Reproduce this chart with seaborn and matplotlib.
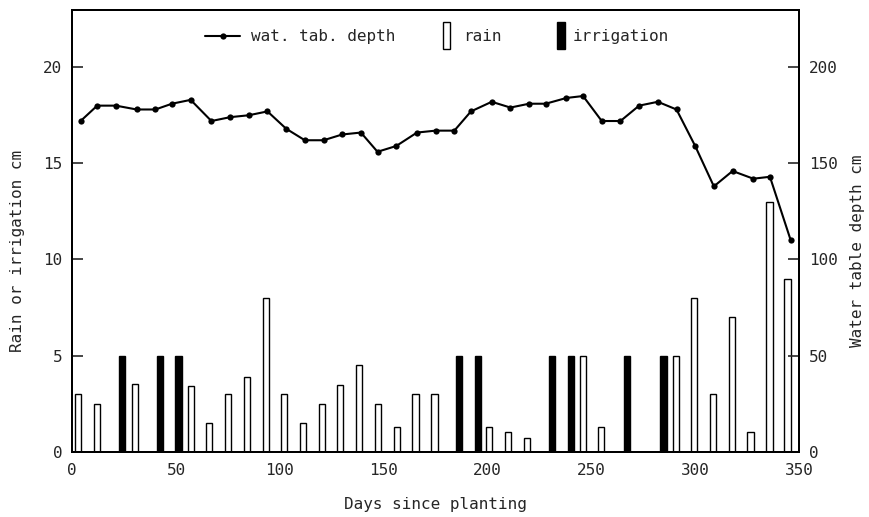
import numpy as np
import pandas as pd
import matplotlib
matplotlib.use("Agg")
import matplotlib.pyplot as plt
from matplotlib.lines import Line2D
from matplotlib.patches import Rectangle
import seaborn as sns

# ---------------- data ----------------
wt_days = [4, 12, 21, 31, 40, 48, 57, 67, 76, 85, 94, 103, 112, 121, 130, 139, 147, 156, 166, 175,
           184, 192, 202, 211, 220, 228, 238, 246, 255, 264, 273, 282, 291, 300, 309, 318, 328, 336, 346]
wt_depth = [172, 180, 180, 178, 178, 181, 183, 172, 174, 175, 177, 168, 162, 162, 165, 166, 156, 159, 166, 167,
            167, 177, 182, 179, 181, 181, 184, 185, 172, 172, 180, 182, 178, 159, 138, 146, 142, 143, 110]

rain_days = [2.8, 11.8, 30.2, 57.1, 65.9, 75.0, 84.1, 93.2, 102.1, 111.1, 120.2, 129.1, 138.2, 147.2,
             156.2, 165.3, 174.5, 200.8, 209.8, 219.0, 246.0, 254.7, 290.6, 299.5, 308.7, 317.7,
             326.6, 335.8, 344.5]
rain_cm = [3.0, 2.5, 3.5, 3.4, 1.5, 3.0, 3.9, 8.0, 3.0, 1.5, 2.5, 3.45, 4.5, 2.5,
           1.3, 3.0, 3.0, 1.3, 1.0, 0.7, 5.0, 1.3, 5.0, 8.0, 3.0, 7.0,
           1.0, 13.0, 9.0]

irr_days = [23.9, 42.1, 51.1, 186.1, 195.3, 231.1, 240.2, 267.0, 284.7]
irr_cm = [5, 5, 5, 5, 5, 5, 5, 5, 5]

left_ticks = [0, 5, 10, 15, 20]
right_ticks = [0, 50, 100, 150, 200]
x_ticks = [0, 50, 100, 150, 200, 250, 300, 350]

# ---------------- style ----------------
sns.set_style("ticks")
plt.rcParams['font.family'] = ['DejaVu Sans Mono', 'DejaVu Sans']
FS = 11.5

BAR_W_DAYS = 3.0

fig = plt.figure(figsize=(8.7, 5.17), dpi=100)
ax = fig.add_axes([0.0831, 0.1263, 0.8353, 0.8553])

rain_df = pd.DataFrame({"day": rain_days, "cm": rain_cm})
irr_df = pd.DataFrame({"day": irr_days, "cm": irr_cm})

rain_gap = np.min(np.diff(np.sort(rain_days)))
irr_gap = np.min(np.diff(np.sort(irr_days)))

sns.barplot(data=rain_df, x="day", y="cm", native_scale=True, errorbar=None,
            width=BAR_W_DAYS / rain_gap, color="white", edgecolor="black",
            linewidth=1.0, saturation=1, ax=ax)
sns.barplot(data=irr_df, x="day", y="cm", native_scale=True, errorbar=None,
            width=BAR_W_DAYS / irr_gap, color="black", edgecolor="black",
            linewidth=1.0, saturation=1, ax=ax)

ax.set_xlim(0, 350)
ax.set_ylim(0, 23)
ax.set_xticks(x_ticks)
ax.set_xticklabels([str(t) for t in x_ticks])
ax.set_yticks(left_ticks)
ax.set_yticklabels([str(t) for t in left_ticks])
ax.tick_params(axis='y', direction='in', length=8, width=1.2, pad=7, labelsize=FS)
ax.tick_params(axis='x', length=0, pad=8, labelsize=FS)
ax.set_xlabel("Days since planting", fontsize=FS, labelpad=14)
ax.set_ylabel("Rain or irrigation cm", fontsize=FS, labelpad=14)
ax.yaxis.set_label_coords(-0.065, 0.455)

ax2 = ax.twinx()
wt_df = pd.DataFrame({"day": wt_days, "depth": wt_depth})
sns.lineplot(data=wt_df, x="day", y="depth", color="black", linewidth=1.5,
             marker="o", markersize=4.5, markeredgewidth=0, errorbar=None, ax=ax2)
ax2.set_ylim(0, 230)
ax2.set_xlim(0, 350)
ax2.set_yticks(right_ticks)
ax2.set_yticklabels([str(t) for t in right_ticks])
ax2.tick_params(axis='y', direction='in', length=8, width=1.2, pad=7, labelsize=FS)
ax2.set_ylabel("Water table depth cm", fontsize=FS, labelpad=12)
ax2.yaxis.set_label_coords(1.07, 0.455)
ax2.set_xlabel("")

for a in (ax, ax2):
    for s in a.spines.values():
        s.set_linewidth(1.4)
        s.set_color("black")

# ---------------- legend (manual) ----------------
tr = ax2.transAxes
LY = 0.940
ax2.add_line(Line2D([0.1826, 0.2308], [LY, LY], color="black", lw=1.5,
                    transform=tr, clip_on=False))
ax2.add_line(Line2D([0.2068], [LY], color="black", marker="o", markersize=4.5,
                    markeredgewidth=0, transform=tr, clip_on=False))
ax2.text(0.2459, LY - 0.002, "wat. tab. depth", transform=tr, fontsize=FS, va="center", ha="left")
ax2.add_patch(Rectangle((0.5097, LY - 0.030), 0.0095, 0.062, facecolor="white", edgecolor="black",
                        lw=1.0, transform=tr, clip_on=False))
ax2.text(0.5372, LY - 0.002, "rain", transform=tr, fontsize=FS, va="center", ha="left")
ax2.add_patch(Rectangle((0.667, LY - 0.030), 0.0105, 0.062, facecolor="black", edgecolor="black",
                        lw=1.0, transform=tr, clip_on=False))
ax2.text(0.6885, LY - 0.002, "irrigation", transform=tr, fontsize=FS, va="center", ha="left")

fig.savefig("out.png", dpi=100)
